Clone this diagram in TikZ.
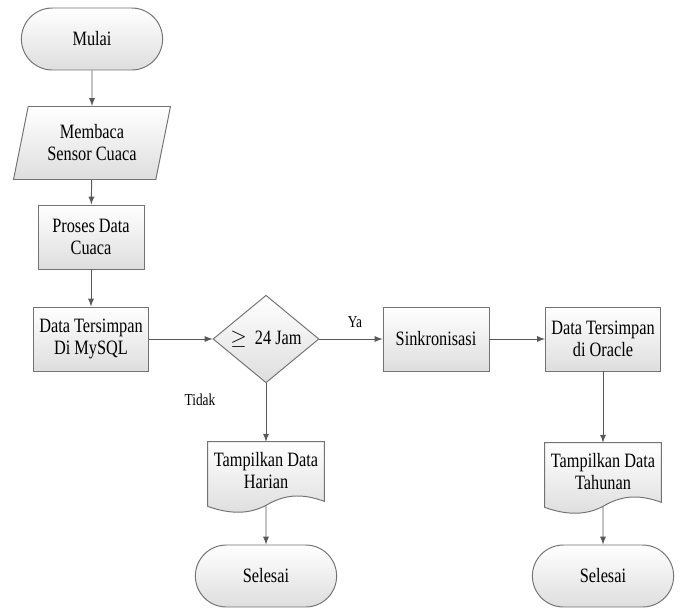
\documentclass[tikz,border=0pt]{standalone}
\usepackage{fontspec}
\setmainfont{Liberation Serif}[FakeStretch=0.8]
\usetikzlibrary{shapes.geometric,shapes.misc,backgrounds,calc}

\begin{document}
\begin{tikzpicture}[x=0.02cm,y=-0.02cm,>=latex,
  font=\fontsize{11.6}{12.5}\selectfont,
  box/.style={draw=black!55,line width=0.55pt,top color=white,bottom color=black!13},
  terminal/.style={box,rounded rectangle,minimum width=3.06cm,minimum height=1.24cm},
  proc/.style={box,rectangle,align=center,minimum width=2.12cm,minimum height=1.28cm},
  inout/.style={box,trapezium,trapezium left angle=73,trapezium right angle=107,
    trapezium stretches body,align=center,minimum width=3.14cm,minimum height=1.46cm,inner xsep=0pt},
  decision/.style={box,diamond,minimum width=2.12cm,minimum height=1.66cm,inner sep=0pt},
  doc/.style={rectangle,align=center,minimum width=2.14cm,minimum height=1.16cm},
  flow/.style={->,draw=black!65,line width=0.55pt},
  small/.style={font=\fontsize{9.5}{10}\selectfont}]
  \useasboundingbox (0,0) rectangle (685,608);

  % left column
  \node[terminal] (mulai) at (92,39) {Mulai};
  \node[inout] (baca) at (92,143) {Membaca\\Sensor Cuaca};
  \node[proc] (proses) at (91,237) {Proses Data\\Cuaca};
  \node[proc] (mysql) at (91,339) {Data Tersimpan\\Di MySQL};

  % middle row
  \node[decision] (cek) at (266,339) {$\geq$\ \ 24 Jam};
  \node[proc] (sinkron) at (436,339) {Sinkronisasi};
  \node[proc] (oracle) at (603,339) {Data Tersimpan\\di Oracle};

  % outputs
  \node[doc] (harian) at (266,471) {Tampilkan Data\\Harian};
  \node[doc] (tahunan) at (603,472) {Tampilkan Data\\Tahunan};
  \begin{scope}[on background layer]
    \foreach \d in {harian,tahunan}{
      \draw[box] (\d.north west) -- (\d.north east) -- ($(\d.south east)+(0,1)$)
        .. controls ($(\d.south)+(34,-8)$) and ($(\d.south)+(17,-5)$) .. ($(\d.south)+(0,5)$)
        .. controls ($(\d.south)+(-17,14)$) and ($(\d.south)+(-36,14)$) .. ($(\d.south west)+(0,6)$)
        -- cycle;
      \coordinate (\d-bot) at ($(\d.south)+(0,5)$);
    }
  \end{scope}

  \node[terminal] (selesaiA) at (266,576) {Selesai};
  \node[terminal] (selesaiB) at (603,576) {Selesai};

  % labels
  \node[small] (ya) at (355,322) {Ya};
  \node[small] (tidak) at (200,400) {Tidak};

  \draw[flow] (mulai) -- (baca);
  \draw[flow] (baca) -- (proses);
  \draw[flow] (proses) -- (mysql);
  \draw[flow] (mysql) -- (cek);
  \draw[flow] (cek) -- (sinkron);
  \draw[flow] (sinkron) -- (oracle);
  \draw[flow] (cek) -- (harian);
  \draw[flow] (oracle) -- (tahunan);
  \draw[flow] (harian-bot) -- (selesaiA);
  \draw[flow] (tahunan-bot) -- (selesaiB);

\end{tikzpicture}
\end{document}
